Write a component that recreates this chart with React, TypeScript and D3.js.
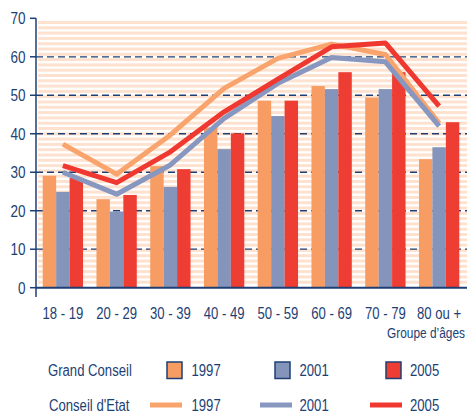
import * as React from "react";
import { useRef, useEffect } from "react";
import * as d3 from "d3";

const ageGroups = ["18 - 19", "20 - 29", "30 - 39", "40 - 49", "50 - 59", "60 - 69", "70 - 79", "80 ou +"];
const years = ["1997", "2001", "2005"];
// Grand Conseil (bars)
const grand1997 = [29.1, 23.0, 31.6, 41.6, 48.6, 52.4, 49.4, 33.4];
const grand2001 = [24.9, 19.8, 26.2, 36.0, 44.6, 51.6, 51.6, 36.5];
const grand2005 = [28.5, 24.1, 30.8, 40.1, 48.6, 56.0, 56.0, 43.0];
// Conseil d'Etat (lines)
const etat1997 = [37.3, 29.5, 39.7, 51.8, 59.6, 63.3, 60.6, 42.7];
const etat2001 = [30.0, 24.3, 31.9, 44.0, 53.1, 59.8, 58.7, 42.0];
const etat2005 = [31.7, 27.3, 35.3, 45.7, 54.2, 62.6, 63.6, 47.2];
const yTicks = [0, 10, 20, 30, 40, 50, 60, 70];

const barColors = ["#f79d64", "#8494bb", "#ee3d32"];
const lineColors = ["#f9a46c", "#8897c0", "#ee3830"];
const navy = "#1d3f74";
const font = "'Liberation Sans', Arial, sans-serif";
const squeeze = 0.82; // narrow face look

export default function App() {
  const _parentRef = useRef(null);
  useEffect(() => {
    const parentRef = _parentRef.current;
    const width = 467;
    const height = 414;
    parentRef.innerHTML = "";
    const svg = d3
      .select(parentRef)
      .append("svg")
      .attr("width", width)
      .attr("height", height)
      .style("position", "absolute")
      .style("left", 0)
      .style("top", 0)
      .style("background", "#fff");

    // condensed text helper
    const label = (g, x, y, str, size = 16, anchor = "start") =>
      g
        .append("text")
        .attr("transform", `translate(${x},${y}) scale(${squeeze},1)`)
        .attr("text-anchor", anchor)
        .attr("fill", navy)
        .style("font-family", font)
        .style("font-size", size + "px")
        .text(str);

    const x = d3.scaleBand().domain(ageGroups).range([36, 466]).paddingInner(0.25).paddingOuter(0.125);
    const xInner = d3.scaleBand().domain(years).range([0, x.bandwidth()]);
    const y = d3.scaleLinear().domain([0, 70]).range([287.7, 18.3]);

    // striped background
    svg
      .append("g")
      .selectAll("rect")
      .data(d3.range(21, 286, 5.3))
      .join("rect")
      .attr("x", 38)
      .attr("y", (d) => d)
      .attr("width", 429)
      .attr("height", 3)
      .attr("fill", "#fedbc3")
      .attr("opacity", 0.8);

    // dashed gridlines
    svg
      .append("g")
      .selectAll("line")
      .data(yTicks.filter((t) => t > 0 && t < 70))
      .join("line")
      .attr("x1", 36)
      .attr("x2", width)
      .attr("y1", (d) => y(d))
      .attr("y2", (d) => y(d))
      .attr("stroke", navy)
      .attr("stroke-width", 1.3)
      .attr("stroke-dasharray", "7,4");

    // bars
    const barSeries = [grand1997, grand2001, grand2005];
    barSeries.forEach((vals, i) => {
      svg
        .append("g")
        .selectAll("rect")
        .data(vals)
        .join("rect")
        .attr("x", (d, j) => x(ageGroups[j]) + xInner(years[i]))
        .attr("y", (d) => y(d))
        .attr("width", xInner.bandwidth())
        .attr("height", (d) => y(0) - y(d))
        .attr("fill", barColors[i]);
    });

    // lines
    const line = d3
      .line()
      .x((d, j) => x(ageGroups[j]) + x.bandwidth() / 2)
      .y((d) => y(d));
    [etat1997, etat2001, etat2005].forEach((vals, i) => {
      svg
        .append("path")
        .datum(vals)
        .attr("fill", "none")
        .attr("stroke", lineColors[i])
        .attr("stroke-width", 5)
        .attr("stroke-linejoin", "round")
        .attr("d", line);
    });

    // axes
    svg
      .append("line")
      .attr("x1", 36)
      .attr("x2", width)
      .attr("y1", y(0))
      .attr("y2", y(0))
      .attr("stroke", navy)
      .attr("stroke-width", 2);
    svg
      .append("line")
      .attr("x1", 36)
      .attr("x2", 36)
      .attr("y1", y(70))
      .attr("y2", 297)
      .attr("stroke", navy)
      .attr("stroke-width", 1.5);

    const yAxis = svg.append("g");
    yAxis
      .selectAll("line")
      .data(yTicks)
      .join("line")
      .attr("x1", 30)
      .attr("x2", 36)
      .attr("y1", (d) => y(d))
      .attr("y2", (d) => y(d))
      .attr("stroke", navy)
      .attr("stroke-width", 1.5);
    yTicks.forEach((t) => label(yAxis, 25.5, y(t) + 6, String(t), 16.5, "end"));

    const xAxis = svg.append("g");
    ageGroups.forEach((g) => label(xAxis, x(g) + x.bandwidth() / 2, 319, g, 16, "middle"));
    label(svg, 387, 338, "Groupe d’âges", 14.5);

    // legend
    const legend = svg.append("g");
    label(legend, 48, 376, "Grand Conseil", 16);
    label(legend, 49, 411, "Conseil d'Etat", 16);
    const swatchX = [167, 275, 386];
    const lineX = [150, 260, 370];
    const labelX = [191.5, 299.5, 410];
    years.forEach((yr, i) => {
      legend
        .append("rect")
        .attr("x", swatchX[i])
        .attr("y", 362)
        .attr("width", 15)
        .attr("height", 16.5)
        .attr("fill", barColors[i])
        .attr("stroke", navy)
        .attr("stroke-width", 1.5);
      label(legend, labelX[i], 376, yr, 16);
      legend
        .append("line")
        .attr("x1", lineX[i])
        .attr("x2", lineX[i] + 32)
        .attr("y1", 405)
        .attr("y2", 405)
        .attr("stroke", lineColors[i])
        .attr("stroke-width", 5);
      label(legend, labelX[i], 411, yr, 16);
    });
  }, []);

  return <div ref={_parentRef}></div>;
}
